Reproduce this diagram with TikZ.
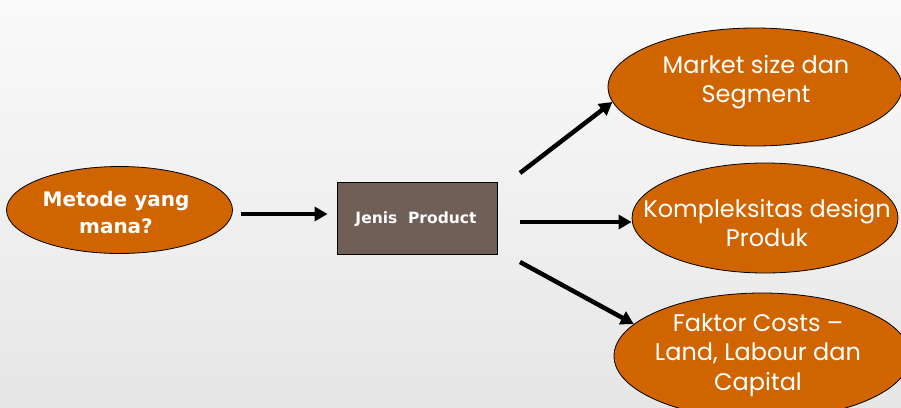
\documentclass[tikz,border=0pt]{standalone}
\usepackage{fontspec}
\setmainfont{Poppins}
\newfontfamily\boldsans{DejaVu Sans}
\usetikzlibrary{shapes.geometric,arrows.meta}
\definecolor{burnt}{RGB}{208,101,0}
\definecolor{taupe}{RGB}{112,95,86}
\definecolor{bgtop}{RGB}{250,250,250}
\definecolor{bgbot}{RGB}{230,230,230}
\tikzset{
  oval/.style={ellipse, draw=black, line width=0.8pt, fill=burnt, inner sep=0pt},
  ovaltext/.style={text=white, align=center, inner sep=0pt,
    font=\fontsize{24}{29.5}\selectfont},
  prodbox/.style={rectangle, draw=black, line width=0.8pt, fill=taupe, inner sep=0pt},
  boldtext/.style={text=white, align=center, inner sep=0pt},
  flow/.style={line width=4.5pt, -{Triangle[length=13pt,width=14pt]}}
}
\begin{document}
\begin{tikzpicture}[x=1pt,y=-1pt]
  \useasboundingbox (0,0) rectangle (901,407);
  \clip (0,0) rectangle (901,407);
  \shade[top color=bgtop, bottom color=bgbot] (0,0) rectangle (901,407);

  % shapes
  \node[oval, minimum width=226pt, minimum height=87pt] (metode) at (119.5,210) {};
  \node[prodbox, minimum width=160pt, minimum height=72pt] (jenis) at (417,218) {};
  \node[oval, minimum width=294pt, minimum height=118pt] (market) at (755,87) {};
  \node[oval, minimum width=266pt, minimum height=110pt] (kompl) at (765,218) {};
  \node[oval, minimum width=296pt, minimum height=126pt] (faktor) at (762,356) {};

  % labels
  \node[boldtext, font=\boldsans\bfseries\fontsize{20}{27}\selectfont]
    (metode-label) at (116,213) {Metode yang\\mana?};
  \node[boldtext, font=\boldsans\bfseries\fontsize{15.5}{18}\selectfont]
    (jenis-label) at (416,219) {Jenis\ \ Product};
  \node[ovaltext] (market-label) at (756,82) {Market size dan\\Segment};
  \node[ovaltext] (kompl-label) at (767,223) {Kompleksitas design\\Produk};
  \node[ovaltext] (faktor-label) at (758,355) {Faktor Costs --\\Land, Labour dan\\Capital};

  % connectors
  \coordinate (a1) at (241,214);
  \coordinate (u0) at (520,173);
  \coordinate (m0) at (520,222);
  \coordinate (l0) at (520,262);

  \draw[flow, shorten >=9pt] (a1) -- (a1 -| jenis.west);
  \draw[flow] (u0) -- (market.186);
  \draw[flow] (m0) -- (m0 -| kompl.west);
  \draw[flow] (l0) -- (faktor.166);
\end{tikzpicture}
\end{document}
